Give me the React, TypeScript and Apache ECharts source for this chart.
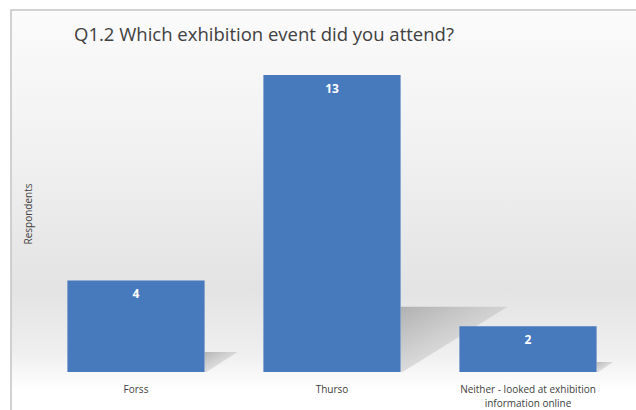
import React, { useEffect, useRef } from "react";
import * as echarts from "echarts";

const categories = ["Forss", "Thurso", "Neither - looked at exhibition\ninformation online"];
const respondents = [4, 13, 2];
const titleText = "Q1.2 Which exhibition event did you attend?";
const yAxisTitle = "Respondents";

export default function App() {
  const ref = useRef<HTMLDivElement>(null);
  useEffect(() => {
    if (!ref.current) return;
    const chart = echarts.init(ref.current, undefined, { renderer: "svg" });
    const font = "'Open Sans', 'Noto Sans', sans-serif";
    chart.setOption({
      animation: false,
      graphic: [
        {
          type: "rect",
          z: -10,
          shape: { x: 11, y: 10, width: 625, height: 400 },
          style: {
            fill: new echarts.graphic.LinearGradient(0, 0, 0, 1, [
              { offset: 0, color: "#fbfbfb" },
              { offset: 0.35, color: "#f1f1f1" },
              { offset: 0.7, color: "#e3e3e3" },
              { offset: 0.86, color: "#efefef" },
              { offset: 0.95, color: "#ffffff" },
              { offset: 1, color: "#ffffff" },
            ]),
          },
        },
        {
          type: "polyline",
          z: -9,
          shape: { points: [[11, 410], [11, 10], [636, 10]] },
          style: { stroke: "#c4c4c4", lineWidth: 1.5, fill: "none" },
        },
        {
          type: "text",
          left: 74,
          top: 24,
          style: {
            text: titleText,
            fill: "#404040",
            font: `18.5px ${font}`,
          },
        },
        {
          type: "text",
          x: 28,
          y: 214,
          rotation: Math.PI / 2,
          style: {
            text: yAxisTitle,
            fill: "#404040",
            font: `10px ${font}`,
            align: "center",
            verticalAlign: "middle",
          },
        },
      ],
      grid: { left: 38, right: 10, top: 75, bottom: 34, containLabel: false },
      xAxis: {
        type: "category",
        data: categories,
        axisLine: { show: false },
        axisTick: { show: false },
        axisLabel: {
          color: "#404040",
          fontFamily: font,
          fontSize: 10,
          margin: 10,
          lineHeight: 14,
          interval: 0,
        },
      },
      yAxis: {
        type: "value",
        min: 0,
        max: 13,
        show: false,
      },
      series: [
        {
          type: "custom",
          z: 1,
          data: respondents.map((v, i) => [i, v]),
          renderItem: (params: any, api: any) => {
            const idx = api.value(0);
            const v = api.value(1);
            const top = api.coord([idx, v]);
            const bottom = api.coord([idx, 0]);
            const bw = api.size([1, 0])[0] * 0.7;
            const xr = bottom[0] + bw / 2;
            const h = bottom[1] - top[1];
            const sy = bottom[1] - h * 0.22;
            const sx = xr + h * 0.36;
            return {
              type: "polygon",
              shape: {
                points: [
                  [xr, sy],
                  [sx, sy],
                  [xr + 2, bottom[1]],
                  [xr, bottom[1]],
                ],
              },
              style: {
                fill: new echarts.graphic.LinearGradient(0, 0, 1, 1, [
                  { offset: 0, color: "rgba(140,140,140,0.6)" },
                  { offset: 0.5, color: "rgba(170,170,170,0.35)" },
                  { offset: 1, color: "rgba(210,210,210,0.05)" },
                ]),
              },
            };
          },
        },
        {
          type: "bar",
          z: 2,
          data: respondents,
          barWidth: "70%",
          itemStyle: { color: "#4779bd" },
          label: {
            show: true,
            position: "insideTop",
            distance: 7,
            color: "#ffffff",
            fontWeight: "bold",
            fontSize: 12,
            fontFamily: font,
          },
        },
      ],
    });
    return () => chart.dispose();
  }, []);
  return (
    <div
      ref={ref}
      style={{ position: "fixed", left: 0, top: 0, width: 636, height: 410, background: "#ffffff" }}
    />
  );
}
